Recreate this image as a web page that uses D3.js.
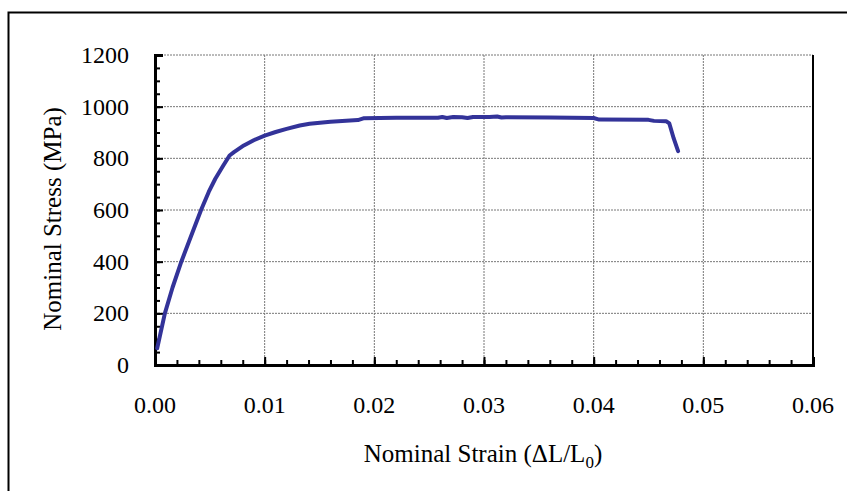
<!DOCTYPE html>
<html>
<head>
<meta charset="utf-8">
<script src="https://cdn.jsdelivr.net/npm/d3@7"></script>
<style>
  body { margin: 0; background: #fff; }
  svg text { font-family: "Liberation Serif", "Times New Roman", serif; fill: #000; }
</style>
</head>
<body>
<svg width="847" height="491"></svg>
<script>
// strain (dL/L0) and nominal stress (MPa)
var strain = [0.0002, 0.0009, 0.0016, 0.0024, 0.0033, 0.0042, 0.0049, 0.0055,
  0.0062, 0.0068, 0.0072, 0.0081, 0.0090, 0.0100, 0.0110, 0.0120, 0.0132, 0.0141,
  0.0160, 0.0185, 0.0190, 0.0220, 0.0258, 0.0262, 0.0266, 0.0272, 0.0280, 0.0285,
  0.0290, 0.0305, 0.0312, 0.0316, 0.0320, 0.0360, 0.0400, 0.0405, 0.0450, 0.0455,
  0.0466, 0.0469, 0.0473, 0.0477];
var stress = [65, 200, 300, 400, 500, 600, 670, 721,
  770, 811, 824, 850, 870, 888, 902, 914, 927, 934,
  942, 948, 955, 957, 957, 960, 956, 960, 959, 956,
  960, 960, 962, 958, 959, 958, 956, 950, 949, 945,
  944, 935, 877, 828];

var xTicks = [0, 0.01, 0.02, 0.03, 0.04, 0.05, 0.06];
var yTicks = [0, 200, 400, 600, 800, 1000, 1200];

var svg = d3.select('svg');
var pLeft = 155, pRight = 813, pTop = 55, pBottom = 365;

var xScale = d3.scaleLinear().domain([0, 0.06]).range([pLeft, pRight]);
var yScale = d3.scaleLinear().domain([0, 1200]).range([pBottom, pTop]);

// outer frame (only left and top fall inside the picture)
svg.append('rect')
  .attr('x', 8.5).attr('y', 12.5)
  .attr('width', 900).attr('height', 600)
  .attr('fill', 'none').attr('stroke', '#000').attr('stroke-width', 2);

// gridlines
svg.append('g').selectAll('line').data(xTicks.slice(1, -1)).enter().append('line')
  .attr('x1', function(d) { return xScale(d); })
  .attr('x2', function(d) { return xScale(d); })
  .attr('y1', pTop).attr('y2', pBottom)
  .attr('stroke', '#777').attr('stroke-width', 1).attr('stroke-dasharray', '2,1');
svg.append('g').selectAll('line').data(yTicks.slice(1)).enter().append('line')
  .attr('x1', pLeft).attr('x2', pRight)
  .attr('y1', function(d) { return yScale(d); })
  .attr('y2', function(d) { return yScale(d); })
  .attr('stroke', '#777').attr('stroke-width', 1).attr('stroke-dasharray', '2,1');

// plot border (right side)
svg.append('line')
  .attr('x1', pRight).attr('x2', pRight).attr('y1', pTop).attr('y2', pBottom)
  .attr('stroke', '#000').attr('stroke-width', 2);

// minor ticks
var xMinor = d3.axisTop(xScale).ticks(30).tickSize(5).tickFormat('');
var yMinor = d3.axisRight(yScale).ticks(30).tickSize(5).tickFormat('');
svg.append('g').attr('class', 'minor').attr('transform', 'translate(0,' + pBottom + ')').call(xMinor);
svg.append('g').attr('class', 'minor').attr('transform', 'translate(' + pLeft + ',0)').call(yMinor);

// major ticks + axes
var xAxis = d3.axisTop(xScale).tickValues(xTicks).tickSize(8).tickFormat('');
var yAxis = d3.axisRight(yScale).tickValues(yTicks).tickSize(8).tickFormat('');
svg.append('g').attr('class', 'major').attr('transform', 'translate(0,' + pBottom + ')').call(xAxis);
svg.append('g').attr('class', 'major').attr('transform', 'translate(' + pLeft + ',0)').call(yAxis);

svg.selectAll('.minor path').remove();
svg.selectAll('.minor line, .major line').attr('stroke', '#000').attr('stroke-width', 2);
svg.selectAll('.major path').attr('stroke', '#000').attr('stroke-width', 3);

// tick labels
svg.append('g').selectAll('text').data(xTicks).enter().append('text')
  .attr('x', function(d) { return xScale(d); })
  .attr('y', 413)
  .attr('text-anchor', 'middle')
  .style('font-size', '24px')
  .text(function(d) { return d3.format('.2f')(d); });
svg.append('g').selectAll('text').data(yTicks).enter().append('text')
  .attr('x', 129)
  .attr('y', function(d) { return yScale(d) + 8; })
  .attr('text-anchor', 'end')
  .style('font-size', '24px')
  .text(function(d) { return d; });

// curve
var line = d3.line()
  .x(function(d) { return xScale(d[0]); })
  .y(function(d) { return yScale(d[1]); });
svg.append('path')
  .datum(d3.zip(strain, stress))
  .attr('d', line)
  .attr('fill', 'none')
  .attr('stroke', '#333399')
  .attr('stroke-width', 4)
  .attr('stroke-linejoin', 'round')
  .attr('stroke-linecap', 'round');

// axis titles
var xt = svg.append('text')
  .attr('x', 483).attr('y', 462)
  .attr('text-anchor', 'middle')
  .style('font-size', '25px');
xt.append('tspan').text('Nominal Strain (\u0394L/L');
xt.append('tspan').attr('dy', 6).style('font-size', '17px').text('0');
xt.append('tspan').attr('dy', -6).text(')');

svg.append('text')
  .attr('transform', 'translate(61,219)rotate(-90)')
  .attr('text-anchor', 'middle')
  .style('font-size', '25px')
  .text('Nominal Stress (MPa)');
</script>
</body>
</html>
